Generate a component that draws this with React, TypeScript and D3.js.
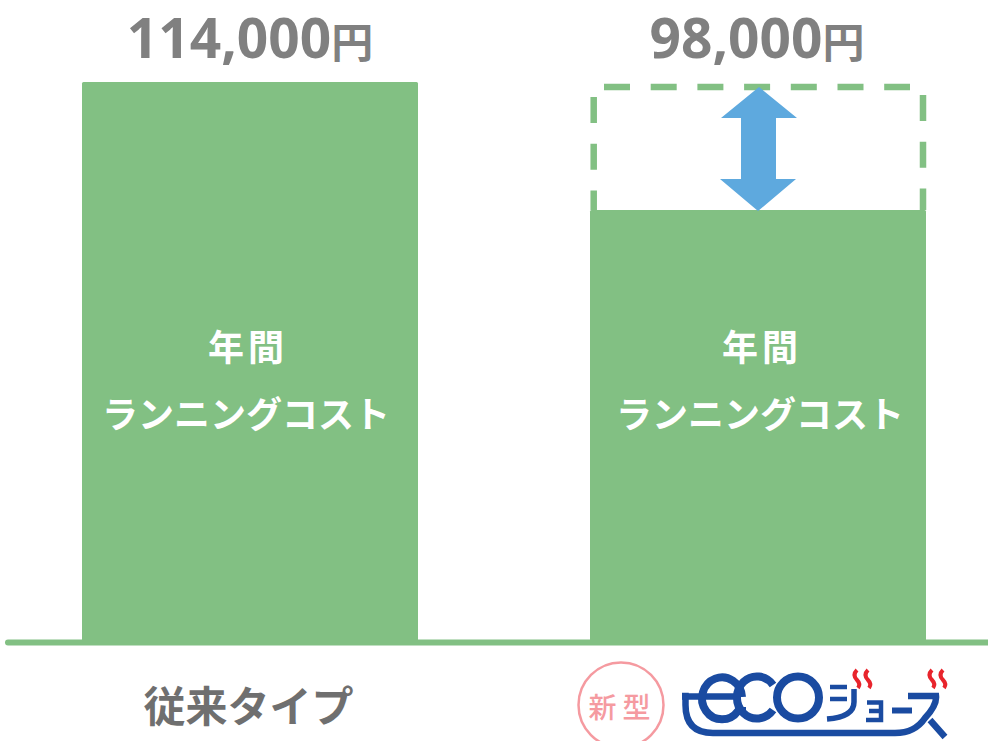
import React from "react";
import * as d3 from "d3";

const categories = ["従来タイプ", "新型"];
const values = [114000, 98000];
const valueLabels = ["114,000", "98,000"];
const barLabelLines = ["年間", "ランニングコスト"];

const W = 988, H = 741;
const GREEN = "#82c083", BLUE = "#5ea9de", GRAY = "#808080";
const FONT = "'Noto Sans CJK JP', 'Noto Sans', sans-serif";

const x = d3.scaleBand<string>().domain(categories).range([82, 926]).paddingInner(172 / 508).paddingOuter(0);
const y = d3.scaleLinear().domain([44000, 114000]).range([642, 82]);

export default function App() {
  const maxTop = y(values[0]);
  const top2 = y(values[1]);
  const bw = x.bandwidth();
  const x2 = x(categories[1])!;
  const cx2 = x2 + bw / 2;
  const arrow = d3.line()([
    [cx2 + 1, maxTop + 5], [cx2 + 39, top2 - 92], [cx2 + 18, top2 - 92], [cx2 + 18, top2 - 31],
    [cx2 + 38, top2 - 31], [cx2, top2 + 1], [cx2 - 38, top2 - 31], [cx2 - 17, top2 - 31],
    [cx2 - 17, top2 - 92], [cx2 - 37, top2 - 92],
  ]) + "Z";
  const dash = { stroke: GREEN, strokeWidth: 6.5, strokeDasharray: "26 20.7", fill: "none" };
  return (
    <svg width={W} height={H} viewBox={`0 0 ${W} ${H}`}
      style={{ position: "absolute", left: 0, top: 0, background: "#fff" }} fontFamily={FONT}>
      <line x1={8} x2={988} y1={642.5} y2={642.5} stroke={GREEN} strokeWidth={6} strokeLinecap="round" />
      {categories.map((c, i) => (
        <g key={c}>
          <rect x={x(c)} y={y(values[i])} width={bw} height={642 - y(values[i])} fill={GREEN} rx={1.5} />
          {barLabelLines.map((t, j) => (
            <text key={t} x={x(c)! + bw / 2 + (i === 0 ? -4 : 2) + (j === 0 ? 2 : 0)} y={361 + j * 67} textAnchor="middle"
              fill="#fff" fontSize={36} fontWeight={700} letterSpacing={j === 0 ? 4 : 0}>{t}</text>
          ))}
        </g>
      ))}
      <line x1={x2 + 14} x2={x2 + 320} y1={maxTop + 5} y2={maxTop + 5} {...dash} />
      <line x1={x2 + 3.7} x2={x2 + 3.7} y1={maxTop + 15} y2={top2} {...dash} />
      <line x1={x2 + 333} x2={x2 + 333} y1={maxTop + 13} y2={top2} {...dash} />
      <path d={arrow} fill={BLUE} />

      <text x={250} y={58} textAnchor="middle" fill={GRAY} fontWeight={700} fontFamily="'Noto Sans', sans-serif" fontSize={55}>
        {valueLabels[0]}<tspan fontFamily={FONT} fontSize={42}>円</tspan>
      </text>
      <text x={757} y={58} textAnchor="middle" fill={GRAY} fontWeight={700} fontFamily="'Noto Sans', sans-serif" fontSize={55}>
        {valueLabels[1]}<tspan fontFamily={FONT} fontSize={42}>円</tspan>
      </text>

      <text x={248.5} y={722} textAnchor="middle" fill="#6f6f6f" fontSize={42} fontWeight={700}>{categories[0]}</text>

      <circle cx={621} cy={705} r={42.5} fill="#fff" stroke="#f59aa0" strokeWidth={2.5} />
      <text x={622.5} y={718} textAnchor="middle" fill="#f59aa0" fontSize={28} fontWeight={500} letterSpacing={6}>{categories[1]}</text>

      <g fill="none" stroke="#1a4ba1">
        <path d="M682 696H685.5V705Q685.5 733 713 733H895Q915 733 925 718Q937 705 936 696H908M930 720L945 737" strokeWidth={6.5} />
        <path d="M682 696.5H741" strokeWidth={6.5} />
        <path d="M742 697A20 21 0 1 0 738 711H746" strokeWidth={8} />
        <path d="M773 685A20 21 0 1 0 773 710" strokeWidth={8} />
        <ellipse cx={798} cy={697.5} rx={21} ry={21} strokeWidth={8} />
        <path d="M830 687H847M830 699H847" strokeWidth={4.5} />
        <path d="M854 689V702Q854 717 827 719" strokeWidth={5.5} />
        <path d="M867 702.5H881V720H866M869 711H881" strokeWidth={4.5} />
        <path d="M892 710.5H912" strokeWidth={6} />
      </g>
      <g fill="none" stroke="#e8242c" strokeWidth={4}>
        <path d="M857 670Q852 675 857 680Q861 684 858 688" />
        <path d="M868 670Q863 675 868 680Q872 684 869 688" />
        <path d="M932 670Q927 675 932 680Q936 684 933 688" />
        <path d="M943 670Q938 675 943 680Q947 684 944 688" />
      </g>
    </svg>
  );
}
